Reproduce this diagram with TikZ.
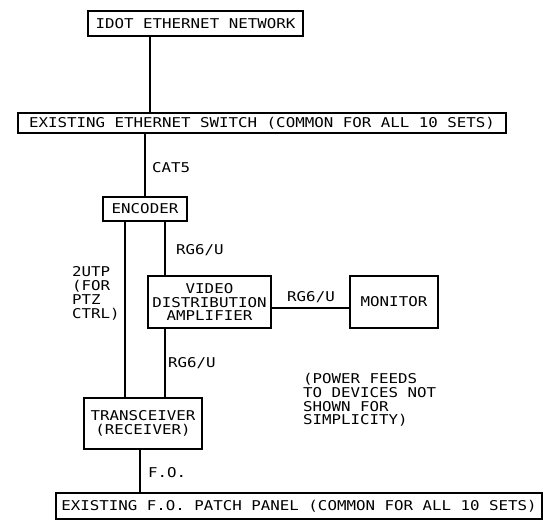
\documentclass[tikz,border=0pt]{standalone}
\usepackage{fontspec}
\newfontfamily\cadfont[FakeStretch=1.17]{DejaVu Sans Mono}
\begin{document}
\begin{tikzpicture}[x=1pt,y=-1pt,line width=2pt,
    txt/.style={font={\cadfont\fontsize{13.5}{13.8}\selectfont},inner sep=0pt},
    unit/.style={txt,draw,align=center}]
    \useasboundingbox (0,0) rectangle (543,521);
    % Draw the boxes
    \node[unit,minimum width=215,minimum height=25] (idot) at (195.5,23.5) {IDOT ETHERNET NETWORK};
    \node[unit,minimum width=488,minimum height=20] (switch) at (262,123) {EXISTING ETHERNET SWITCH (COMMON FOR ALL 10 SETS)};
    \node[unit,minimum width=84,minimum height=24] (enc) at (145,209) {ENCODER};
    \node[unit,minimum width=123,minimum height=52] (vda) at (209.5,302) {VIDEO\\DISTRIBUTION\\AMPLIFIER};
    \node[unit,minimum width=88,minimum height=52] (mon) at (394,302) {MONITOR};
    \node[unit,minimum width=118,minimum height=51] (trx) at (143,423.5) {TRANSCEIVER\\(RECEIVER)};
    \node[unit,minimum width=486,minimum height=26] (patch) at (299,506) {EXISTING F.O. PATCH PANEL (COMMON FOR ALL 10 SETS)};

    % Draw the cables
    \draw ([xshift=-45.5pt]idot.south) -- ([xshift=-45.5pt]idot.south |- switch.north);
    \draw (enc.north |- switch.south) -- (enc.north);
    \draw ([xshift=-20pt]enc.south) -- ([xshift=-20pt]enc.south |- trx.north);
    \draw ([xshift=20pt]enc.south) -- ([xshift=20pt]enc.south |- vda.north);
    \draw ([xshift=-44.5pt]vda.south) -- ([xshift=-44.5pt]vda.south |- trx.north);
    \draw ([yshift=-6pt]vda.east) -- ([yshift=-6pt]vda.east -| mon.west);
    \draw ([xshift=-3pt]trx.south) -- ([xshift=-3pt]trx.south |- patch.north);

    % Cable labels
    \node[txt,anchor=west] (cat) at (151,168) {CAT5};
    \foreach \n/\x/\y in {a/175/250,c/167/363} {
        \node[txt,anchor=west] (rg\n) at (\x,\y) {RG6/U};
    }
    \node[txt] (rgb) at (311,297) {RG6/U};
    \node[txt,anchor=west] (fo) at (147,473) {F.O.};
    \node[txt,anchor=west,align=left] (utp) at (71,293.5) {2UTP\\(FOR\\PTZ\\CTRL)};

    % Note
    \node[txt,anchor=west,align=left] (note) at (302,400) {(POWER FEEDS\\TO DEVICES NOT\\SHOWN FOR\\SIMPLICITY)};
\end{tikzpicture}
\end{document}
